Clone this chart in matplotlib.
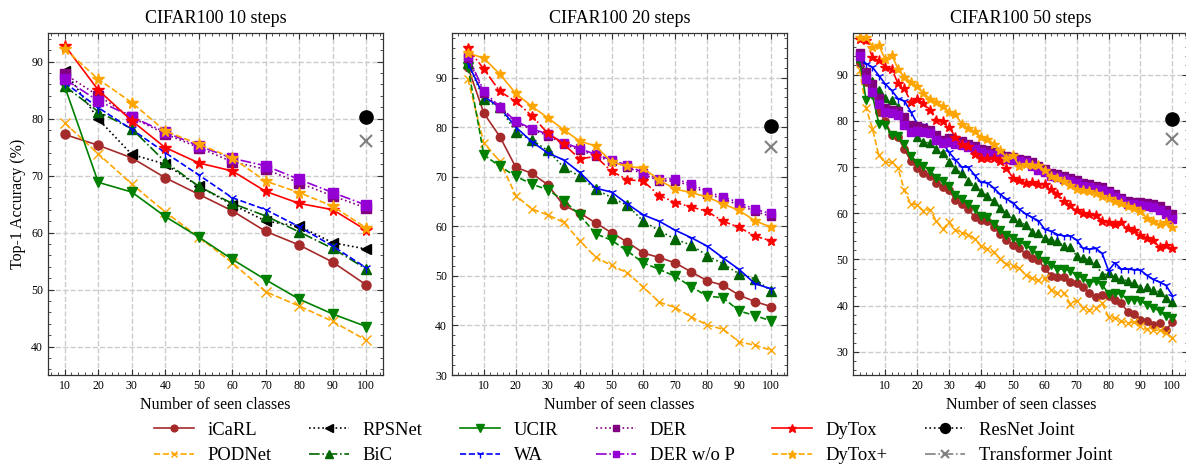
import matplotlib
matplotlib.use("Agg")
import matplotlib.pyplot as plt
from matplotlib.ticker import AutoMinorLocator, MultipleLocator, FixedLocator

plt.rcParams['font.family'] = ['Liberation Serif', 'DejaVu Serif']
plt.rcParams['xtick.direction'] = 'in'
plt.rcParams['ytick.direction'] = 'in'
plt.rcParams['xtick.top'] = True
plt.rcParams['ytick.right'] = True

# ---------------- data ----------------
titles = ["CIFAR100 10 steps", "CIFAR100 20 steps", "CIFAR100 50 steps"]
xticks = [10, 20, 30, 40, 50, 60, 70, 80, 90, 100]
joint_resnet = 80.3
joint_transformer = 76.1

# 10 steps
x10 = [10, 20, 30, 40, 50, 60, 70, 80, 90, 100]
icarl_10 = [77.2, 75.3, 73.1, 69.6, 66.7, 63.8, 60.2, 57.8, 54.8, 50.8]
podnet_10 = [79.2, 73.8, 68.5, 63.6, 59.2, 54.7, 49.6, 47.1, 44.4, 41.1]
rpsnet_10 = [88.4, 79.9, 73.7, 72.0, 68.1, 64.9, 62.0, 61.1, 58.2, 57.1]
bic_10 = [85.7, 81.2, 78.2, 72.4, 68.1, 65.1, 62.9, 60.1, 57.2, 53.6]
ucir_10 = [85.6, 68.8, 67.1, 62.8, 59.2, 55.3, 51.7, 48.3, 45.7, 43.5]
wa_10 = [86.3, 81.9, 78.1, 74.0, 70.1, 66.1, 64.0, 61.0, 57.6, 53.8]
der_10 = [87.8, 84.0, 80.2, 77.3, 74.9, 72.4, 71.1, 68.7, 66.4, 64.3]
derwop_10 = [86.9, 83.1, 80.3, 77.6, 75.2, 73.0, 71.7, 69.3, 67.0, 64.8]
dytox_10 = [92.8, 85.0, 79.6, 74.9, 72.2, 70.8, 67.2, 65.1, 64.0, 60.4]
dytoxp_10 = [92.2, 86.9, 82.8, 77.8, 75.5, 73.1, 69.0, 67.0, 64.6, 60.8]

# 20 steps
x20 = [5, 10, 15, 20, 25, 30, 35, 40, 45, 50, 55, 60, 65, 70, 75, 80, 85, 90, 95, 100]
icarl_20 = [92.1, 82.8, 78.1, 71.9, 70.7, 68.4, 64.2, 62.7, 60.7, 58.7,
            56.8, 54.6, 53.7, 52.6, 50.8, 49.0, 48.1, 46.1, 44.8, 43.8]
podnet_20 = [89.7, 76.8, 73.1, 66.2, 63.5, 62.3, 60.8, 57.1, 53.8, 52.1,
             50.6, 47.7, 44.7, 43.6, 41.7, 40.1, 39.2, 36.7, 36.0, 35.0]
bic_20 = [92.9, 85.6, 84.0, 79.0, 77.4, 75.3, 71.9, 70.1, 67.5, 65.8,
          64.2, 61.0, 59.1, 57.4, 56.2, 54.1, 52.4, 50.4, 49.4, 46.9]
ucir_20 = [92.1, 74.4, 72.1, 70.1, 68.5, 67.4, 65.2, 62.3, 58.5, 57.2,
           55.0, 52.6, 51.3, 49.9, 47.8, 45.9, 45.6, 42.9, 42.0, 40.9]
wa_20 = [92.9, 86.2, 84.0, 80.0, 77.1, 74.8, 73.4, 70.9, 67.7, 66.9,
         64.5, 62.3, 61.0, 59.2, 57.7, 56.0, 53.6, 51.3, 48.4, 47.4]
der_20 = [94.0, 86.8, 83.9, 81.0, 79.5, 78.3, 76.6, 75.4, 74.2, 73.1,
          72.0, 70.4, 69.2, 69.1, 68.2, 66.6, 65.5, 64.3, 63.0, 62.0]
derwop_20 = [94.4, 87.2, 84.1, 81.2, 79.7, 78.6, 76.9, 75.7, 74.5, 73.4,
             72.3, 70.8, 69.6, 69.5, 68.6, 67.0, 65.9, 64.8, 63.4, 62.6]
dytox_20 = [95.9, 91.7, 87.2, 85.2, 82.3, 78.8, 76.6, 73.6, 74.1, 71.1,
            69.4, 69.1, 66.2, 64.8, 63.9, 63.0, 61.0, 59.8, 58.0, 57.1]
dytoxp_20 = [95.0, 93.9, 90.7, 86.8, 84.2, 81.9, 79.5, 77.2, 76.2, 73.0,
             72.1, 71.7, 69.3, 67.5, 66.8, 65.9, 64.5, 63.2, 61.1, 59.8]

# 50 steps
x50 = list(range(2, 101, 2))
icarl_50 = [92.5, 88.3, 86.6, 82.0, 80.0, 76.9, 76.4, 73.9, 71.3, 69.8,
            68.8, 68.0, 66.6, 65.7, 65.0, 62.8, 61.9, 60.9, 59.2, 58.5,
            58.4, 57.0, 55.5, 54.2, 53.2, 52.4, 51.2, 50.4, 49.8, 48.1,
            46.4, 46.3, 46.1, 45.2, 45.0, 44.1, 42.7, 41.9, 42.3, 42.1,
            41.2, 40.5, 38.7, 38.3, 37.0, 36.7, 35.8, 36.3, 34.7, 36.5]
podnet_50 = [90.9, 82.8, 78.3, 72.5, 71.0, 71.0, 69.8, 65.0, 62.1, 61.8,
             60.5, 60.8, 58.3, 56.6, 58.0, 56.3, 55.8, 55.4, 54.5, 53.0,
             52.3, 51.6, 50.2, 49.0, 48.5, 48.2, 46.6, 45.9, 45.5, 45.9,
             43.4, 42.8, 42.8, 40.4, 41.1, 39.5, 39.1, 39.4, 40.5, 37.6,
             37.3, 36.7, 36.2, 36.5, 35.5, 34.9, 34.7, 34.7, 34.0, 33.1]
bic_50 = [93.5, 90.0, 88.6, 86.7, 85.0, 84.6, 83.0, 80.6, 78.0, 76.5,
          75.5, 75.1, 73.8, 73.1, 71.0, 69.6, 68.6, 67.0, 66.0, 64.6,
          63.8, 62.6, 61.1, 60.0, 58.9, 58.2, 57.5, 56.0, 55.8, 54.6,
          54.2, 53.9, 52.9, 52.6, 50.8, 50.3, 49.8, 49.2, 46.6, 47.0,
          46.1, 45.7, 45.4, 44.8, 43.9, 44.0, 43.5, 43.0, 41.6, 40.9]
ucir_50 = [93.0, 84.6, 85.5, 79.4, 79.2, 77.0, 76.8, 74.9, 72.3, 70.9,
           70.3, 69.2, 67.7, 66.9, 66.0, 63.9, 63.0, 62.1, 61.0, 59.3,
           59.1, 57.6, 56.4, 55.4, 54.7, 53.8, 53.2, 52.1, 51.0, 49.6,
           48.8, 47.9, 47.9, 47.6, 46.5, 46.0, 45.0, 45.3, 44.5, 42.6,
           42.7, 42.5, 41.3, 41.3, 41.0, 40.2, 39.6, 38.8, 37.8, 37.3]
wa_50 = [93.7, 92.4, 91.6, 89.8, 88.0, 86.6, 84.8, 84.3, 82.0, 79.4,
         79.2, 78.5, 77.0, 75.2, 73.2, 71.6, 70.0, 70.0, 68.3, 66.7,
         66.6, 65.5, 64.1, 63.1, 62.3, 60.9, 59.9, 59.1, 58.4, 56.5,
         56.1, 55.4, 55.1, 55.1, 54.2, 52.4, 52.2, 52.4, 51.3, 47.6,
         49.3, 47.9, 47.9, 47.8, 47.7, 46.6, 45.7, 45.1, 44.4, 42.2]
der_50 = [94.7, 90.5, 88.0, 85.0, 82.8, 82.4, 82.1, 80.8, 79.0, 78.9,
          78.4, 78.1, 77.0, 75.9, 76.2, 75.8, 75.6, 75.0, 74.6, 73.9,
          73.6, 73.3, 72.6, 72.3, 72.2, 71.8, 71.6, 71.0, 70.2, 69.6,
          68.7, 68.4, 68.1, 67.6, 67.1, 66.5, 66.3, 65.9, 65.6, 64.9,
          64.2, 63.4, 62.7, 62.5, 62.4, 62.3, 62.0, 61.5, 60.6, 59.8]
derwop_50 = [94.0, 89.0, 86.3, 83.6, 82.0, 81.6, 81.2, 79.0, 77.6, 77.9,
             77.6, 77.3, 75.8, 75.1, 75.4, 75.0, 74.7, 74.3, 73.9, 73.2,
             72.9, 72.6, 72.0, 71.7, 71.6, 71.2, 71.0, 70.3, 69.4, 69.0,
             68.1, 67.9, 67.5, 67.0, 66.5, 65.9, 65.7, 65.3, 65.0, 64.3,
             63.6, 62.9, 62.1, 61.9, 61.8, 61.6, 61.3, 60.8, 59.9, 58.8]
dytox_50 = [97.6, 97.4, 93.8, 93.2, 91.7, 91.3, 88.1, 87.0, 84.1, 84.7,
            83.8, 82.4, 80.2, 80.0, 78.6, 76.6, 75.0, 74.6, 72.8, 72.0,
            72.0, 71.9, 71.4, 69.7, 67.7, 67.3, 66.5, 66.7, 66.3, 66.3,
            65.2, 64.2, 62.7, 61.7, 60.6, 60.1, 59.9, 59.6, 58.4, 58.0,
            57.7, 58.2, 56.8, 56.4, 55.4, 54.6, 54.2, 52.6, 53.1, 52.5]
dytoxp_50 = [98.2, 98.2, 96.0, 96.3, 93.3, 94.3, 91.3, 89.4, 88.5, 87.5,
             86.0, 84.8, 84.0, 83.2, 82.0, 81.4, 79.3, 78.4, 77.7, 76.5,
             76.1, 75.0, 73.7, 72.0, 72.6, 70.2, 70.7, 70.5, 70.4, 69.3,
             68.0, 67.7, 67.0, 66.2, 65.3, 65.0, 64.8, 64.4, 63.8, 63.2,
             62.6, 62.2, 61.6, 61.1, 60.4, 59.0, 58.3, 57.6, 58.0, 57.1]

# ---------------- figure ----------------
W, H = 1186, 466
fig = plt.figure(figsize=(W / 100, H / 100), dpi=100)

def px_axes(left, right, top, bottom):
    return fig.add_axes([left / W, 1 - bottom / H, (right - left) / W, (bottom - top) / H])

ax1 = px_axes(48, 383, 33, 375)
ax2 = px_axes(452, 787, 33, 375)
ax3 = px_axes(853.3, 1188.3, 33, 375)

C = dict(icarl='#a52a2a', podnet='orange', rpsnet='black', bic='darkgreen', ucir='green',
         wa='blue', der='purple', derwop='darkviolet', dytox='red', dytoxp='orange')

lw = 1.2

def plot_panel(ax, x, series, ms):
    handles = []
    for key, y, ls, mk, lab, msk in series:
        h, = ax.plot(x, y, color=C[key], ls=ls, marker=mk, ms=ms * msk, lw=lw, label=lab)
        handles.append(h)
    hr, = ax.plot([100], [joint_resnet], color='black', ls=':', marker='o', ms=9.5, lw=lw,
                  label='ResNet Joint')
    ht, = ax.plot([100], [joint_transformer], color='gray', ls='-.', marker='x', ms=8.5,
                  mew=1.5, lw=lw, label='Transformer Joint')
    return handles + [hr, ht]

s1 = [
    ('icarl', icarl_10, '-', 'o', 'iCaRL', 1.0),
    ('podnet', podnet_10, '--', 'x', 'PODNet', 1.0),
    ('rpsnet', rpsnet_10, ':', '<', 'RPSNet', 1.1),
    ('bic', bic_10, '-.', '^', 'BiC', 1.1),
    ('ucir', ucir_10, '-', 'v', 'UCIR', 1.1),
    ('wa', wa_10, '--', '1', 'WA', 1.2),
    ('der', der_10, ':', 's', 'DER', 1.0),
    ('derwop', derwop_10, '-.', 's', 'DER w/o P', 1.0),
    ('dytox', dytox_10, '-', '*', 'DyTox', 1.3),
    ('dytoxp', dytoxp_10, '--', '*', 'DyTox+', 1.3),
]
s2 = [
    ('icarl', icarl_20, '-', 'o', 'iCaRL', 1.0),
    ('podnet', podnet_20, '--', 'x', 'PODNet', 1.0),
    ('bic', bic_20, ':', '^', 'BiC', 1.1),
    ('ucir', ucir_20, '--', 'v', 'UCIR', 1.1),
    ('wa', wa_20, '-', '1', 'WA', 1.2),
    ('der', der_20, ':', 's', 'DER', 1.0),
    ('derwop', derwop_20, '-.', 's', 'DER w/o P', 1.0),
    ('dytox', dytox_20, '-.', '*', 'DyTox', 1.3),
    ('dytoxp', dytoxp_20, '-', '*', 'DyTox+', 1.3),
]
s3 = [
    ('icarl', icarl_50, '-', 'o', 'iCaRL', 1.0),
    ('podnet', podnet_50, '--', 'x', 'PODNet', 1.0),
    ('bic', bic_50, ':', '^', 'BiC', 1.1),
    ('ucir', ucir_50, '-', 'v', 'UCIR', 1.1),
    ('wa', wa_50, '-', '1', 'WA', 1.2),
    ('der', der_50, ':', 's', 'DER', 1.2),
    ('derwop', derwop_50, '-.', 's', 'DER w/o P', 1.2),
    ('dytox', dytox_50, '-.', '*', 'DyTox', 1.3),
    ('dytoxp', dytoxp_50, '-', '*', 'DyTox+', 1.3),
]

h1 = plot_panel(ax1, x10, s1, 6.5)
plot_panel(ax2, x20, s2, 6.0)
plot_panel(ax3, x50, s3, 5.3)

ax1.set_xlim(5, 105)
ax1.set_ylim(35, 95)
ax2.set_xlim(0, 105)
ax2.set_ylim(30, 99)
ax3.set_xlim(0, 105)
ax3.set_ylim(25, 99)

for ax, t in zip([ax1, ax2, ax3], titles):
    ax.set_title(t, fontsize=13, pad=7)
    ax.set_xlabel("Number of seen classes", fontsize=11.5)
    ax.xaxis.set_major_locator(FixedLocator(xticks))
    ax.yaxis.set_major_locator(MultipleLocator(10))
    ax.xaxis.set_minor_locator(MultipleLocator(2))
    ax.yaxis.set_minor_locator(AutoMinorLocator(5))
    ax.tick_params(which='major', length=4, width=0.8, labelsize=8.5, color='#333333')
    ax.tick_params(which='minor', length=2, width=0.6, color='#333333')
    ax.grid(True, which='major', ls='--', color='#cccccc', lw=1.0)
    ax.set_axisbelow(True)
    for sp in ax.spines.values():
        sp.set_color('#333333')
        sp.set_linewidth(0.9)

ax1.set_ylabel("Top-1 Accuracy (%)", fontsize=11.5)

fig.legend(handles=h1, loc='center', bbox_to_anchor=(633 / W, 1 - 443 / H), ncol=6,
           frameon=False, fontsize=13.4, handlelength=2.15, handletextpad=0.75,
           columnspacing=2.0, labelspacing=0.45, markerscale=0.75, borderpad=0)

fig.savefig("out.png", dpi=100)
